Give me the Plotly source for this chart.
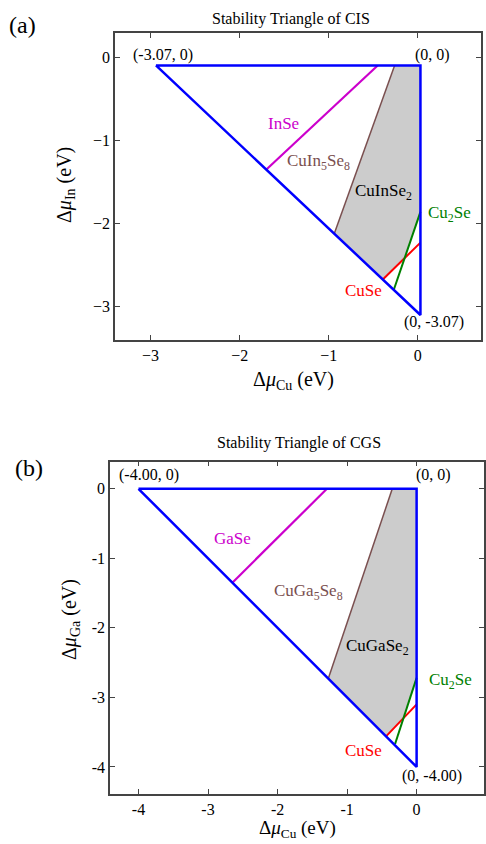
import plotly.graph_objects as go

# ---------------- Data: panel (a) CIS ----------------
cis_tri_x = [-2.94, 0.03, 0.03, -2.94]
cis_tri_y = [-0.10, -0.10, -3.10, -0.10]
cis_inse_x = [-0.45, -1.70]
cis_inse_y = [-0.10, -1.35]
cis_cuin5se8_x = [-0.26, -0.94]
cis_cuin5se8_y = [-0.10, -2.13]
cis_cuse_x = [-0.39, 0.03]
cis_cuse_y = [-2.67, -2.23]
cis_cu2se_x = [-0.27, 0.03]
cis_cu2se_y = [-2.80, -1.86]
cis_region_x = [-0.26, 0.03, 0.03, -0.147, -0.39, -0.94, -0.26]
cis_region_y = [-0.10, -0.10, -1.86, -2.415, -2.67, -2.13, -0.10]
cis_ticks_x = [-3, -2, -1, 0]
cis_ticks_y = [0, -1, -2, -3]

# ---------------- Data: panel (b) CGS ----------------
cgs_tri_x = [-4.0, 0.0, 0.0, -4.0]
cgs_tri_y = [0.0, 0.0, -4.0, 0.0]
cgs_gase_x = [-1.29, -2.65]
cgs_gase_y = [0.0, -1.35]
cgs_cuga5se8_x = [-0.35, -1.27]
cgs_cuga5se8_y = [0.0, -2.73]
cgs_cuse_x = [-0.44, 0.0]
cgs_cuse_y = [-3.56, -3.10]
cgs_cu2se_x = [-0.31, 0.0]
cgs_cu2se_y = [-3.67, -2.72]
cgs_region_x = [-0.35, 0.0, 0.0, -0.188, -0.44, -1.27, -0.35]
cgs_region_y = [0.0, 0.0, -2.72, -3.296, -3.56, -2.73, 0.0]
cgs_ticks_x = [-4, -3, -2, -1, 0]
cgs_ticks_y = [0, -1, -2, -3, -4]

BLUE = "#0000ff"
MAG = "#cc00cc"
BROWN = "#7a4f4f"
RED = "#ff0000"
GREEN = "#008000"
GRAY = "#cccccc"
FONT = "Liberation Serif"

fig = go.Figure()


def add_panel(xa, ya, region, tri, l1, l2, cuse, cu2se):
    fig.add_trace(go.Scatter(x=region[0], y=region[1], fill="toself", fillcolor=GRAY,
                             mode="lines", line=dict(width=0, color=GRAY),
                             xaxis=xa, yaxis=ya, hoverinfo="skip"))
    fig.add_trace(go.Scatter(x=l1[0], y=l1[1], mode="lines", line=dict(color=MAG, width=2.2),
                             xaxis=xa, yaxis=ya))
    fig.add_trace(go.Scatter(x=l2[0], y=l2[1], mode="lines", line=dict(color=BROWN, width=1.5),
                             xaxis=xa, yaxis=ya))
    fig.add_trace(go.Scatter(x=cuse[0], y=cuse[1], mode="lines", line=dict(color=RED, width=2),
                             xaxis=xa, yaxis=ya))
    fig.add_trace(go.Scatter(x=cu2se[0], y=cu2se[1], mode="lines", line=dict(color=GREEN, width=2),
                             xaxis=xa, yaxis=ya))
    fig.add_trace(go.Scatter(x=tri[0], y=tri[1], mode="lines", line=dict(color=BLUE, width=2.5),
                             xaxis=xa, yaxis=ya))


add_panel("x", "y", (cis_region_x, cis_region_y), (cis_tri_x, cis_tri_y),
          (cis_inse_x, cis_inse_y), (cis_cuin5se8_x, cis_cuin5se8_y),
          (cis_cuse_x, cis_cuse_y), (cis_cu2se_x, cis_cu2se_y))
add_panel("x2", "y2", (cgs_region_x, cgs_region_y), (cgs_tri_x, cgs_tri_y),
          (cgs_gase_x, cgs_gase_y), (cgs_cuga5se8_x, cgs_cuga5se8_y),
          (cgs_cuse_x, cgs_cuse_y), (cgs_cu2se_x, cgs_cu2se_y))

axis_common = dict(showgrid=False, zeroline=False, showline=True, linecolor="#444444",
                   linewidth=1.5, mirror="ticks", ticks="inside", ticklen=5,
                   tickcolor="#444444", tickfont=dict(family=FONT, size=16, color="black"))

fig.update_layout(
    width=486, height=844, margin=dict(l=0, r=0, t=0, b=0),
    paper_bgcolor="white", plot_bgcolor="white", showlegend=False,
    xaxis=dict(domain=[0.2366, 0.9897], range=[-3.40, 0.71], tickvals=cis_ticks_x,
               ticktext=["\u2212" + str(-v) if v < 0 else str(v) for v in cis_ticks_x],
               anchor="y", **axis_common),
    yaxis=dict(domain=[0.5972, 0.9609], range=[-3.40, 0.29], tickvals=cis_ticks_y,
               ticktext=["\u2212" + str(-v) if v < 0 else str(v) for v in cis_ticks_y],
               anchor="x", **axis_common),
    xaxis2=dict(domain=[0.2263, 0.996], range=[-4.41, 0.97], tickvals=cgs_ticks_x,
                ticktext=[str(v) for v in cgs_ticks_x], anchor="y2", **axis_common),
    yaxis2=dict(domain=[0.0592, 0.4530], range=[-4.39, 0.39], tickvals=cgs_ticks_y,
                ticktext=[str(v) for v in cgs_ticks_y], anchor="x2", **axis_common),
)

ann = []


def t(x, y, text, color="black", size=17, xref="x", yref="y", **kw):
    ann.append(dict(x=x, y=y, xref=xref, yref=yref, text=text, showarrow=False,
                    font=dict(family=FONT, size=size, color=color), **kw))


# panel (a) labels
t(-2.86, 0.03, "(-3.07, 0)", size=16)
t(0.17, 0.03, "(0, 0)", size=16)
t(0.18, -3.19, "(0, -3.07)", size=16)
t(-1.51, -0.80, "InSe", MAG)
t(-1.12, -1.26, "CuIn<sub>5</sub>Se<sub>8</sub>", BROWN)
t(-0.39, -1.62, "CuInSe<sub>2</sub>", "black")
t(0.36, -1.89, "Cu<sub>2</sub>Se", GREEN)
t(-0.61, -2.80, "CuSe", RED)

# panel (b) labels
t(-3.85, 0.20, "(-4.00, 0)", size=16, xref="x2", yref="y2")
t(0.25, 0.20, "(0, 0)", size=16, xref="x2", yref="y2")
t(0.22, -4.13, "(0, -4.00)", size=16, xref="x2", yref="y2")
t(-2.65, -0.71, "GaSe", MAG, xref="x2", yref="y2")
t(-1.56, -1.49, "CuGa<sub>5</sub>Se<sub>8</sub>", BROWN, xref="x2", yref="y2")
t(-0.56, -2.27, "CuGaSe<sub>2</sub>", "black", xref="x2", yref="y2")
t(0.49, -2.77, "Cu<sub>2</sub>Se", GREEN, xref="x2", yref="y2")
t(-0.77, -3.76, "CuSe", RED, xref="x2", yref="y2")


# titles, panel letters and axis titles (paper coords)
def p(xpx, ypx, text, size, angle=0):
    ann.append(dict(x=xpx / 486, y=1 - ypx / 844, xref="paper", yref="paper", text=text,
                    showarrow=False, textangle=angle, xanchor="center", yanchor="middle",
                    font=dict(family=FONT, size=size, color="black")))


p(291, 19, "Stability Triangle of CIS", 16)
p(22, 25, "(a)", 24)
p(293, 380, "\u0394<i>\u03bc</i><sub>Cu</sub> (eV)", 20)
p(66, 185, "\u0394<i>\u03bc</i><sub>In</sub> (eV)", 20, -90)

p(299, 443, "Stability Triangle of CGS", 16)
p(29, 468, "(b)", 24)
p(297, 829, "\u0394<i>\u03bc</i><sub>Cu</sub> (eV)", 19)
p(70, 620, "\u0394<i>\u03bc</i><sub>Ga</sub> (eV)", 20, -90)

fig.update_layout(annotations=ann)
fig.write_html("out.html")
